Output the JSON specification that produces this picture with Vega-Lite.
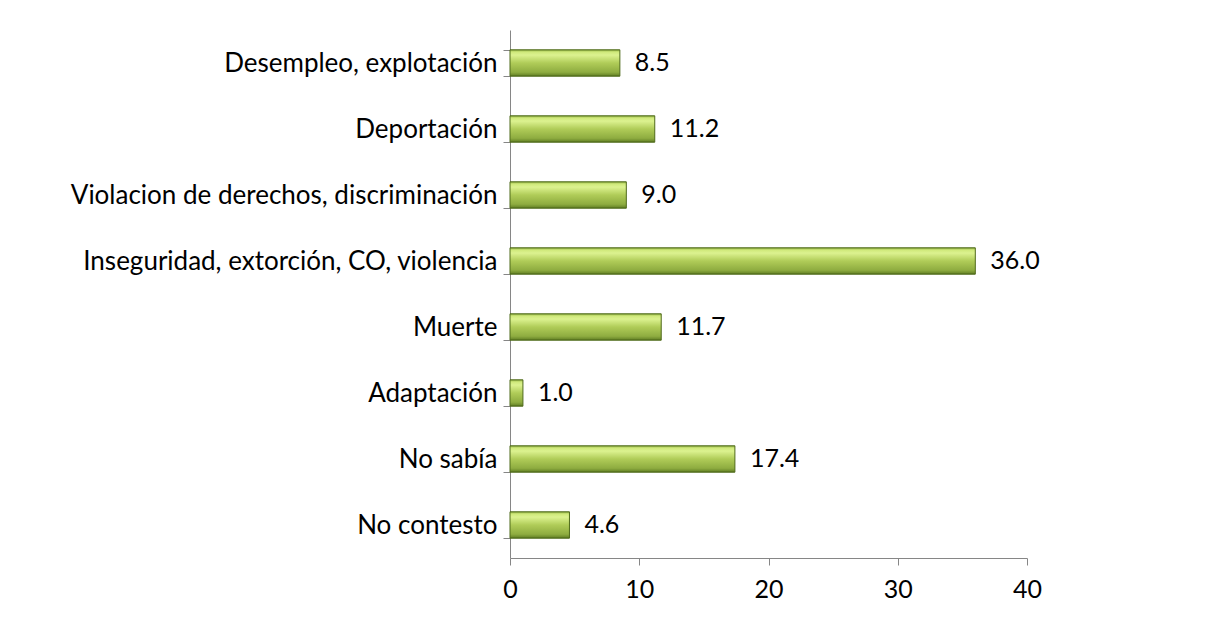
{
  "$schema": "https://vega.github.io/schema/vega-lite/v6.json",
  "width": 517,
  "height": 528,
  "autosize": {"type": "none"},
  "padding": {"left": 510, "top": 30, "right": 193, "bottom": 60},
  "background": "white",
  "config": {"view": {"stroke": null}, "font": "Lato"},
  "data": {
    "values": [
      {"cat": "Desempleo, explotación", "v": 8.5},
      {"cat": "Deportación", "v": 11.2},
      {"cat": "Violacion de derechos, discriminación", "v": 9.0},
      {"cat": "Inseguridad, extorción, CO, violencia", "v": 36.0},
      {"cat": "Muerte", "v": 11.7},
      {"cat": "Adaptación", "v": 1.0},
      {"cat": "No sabía", "v": 17.4},
      {"cat": "No contesto", "v": 4.6}
    ]
  },
  "encoding": {
    "y": {
      "field": "cat", "type": "nominal", "sort": null, "title": null,
      "scale": {"paddingInner": 0.6, "paddingOuter": 0.3},
      "axis": {
        "domainColor": "#868686", "tickColor": "#868686", "tickSize": 7,
        "tickBand": "extent", "labelPadding": 6, "labelFontSize": 26,
        "labelColor": "#000000", "labelFont": "Lato", "labelLimit": 500
      }
    },
    "x": {
      "field": "v", "type": "quantitative", "title": null,
      "scale": {"domain": [0, 40], "nice": false},
      "axis": {
        "values": [0, 10, 20, 30, 40], "grid": false,
        "domainColor": "#868686", "tickColor": "#868686", "tickSize": 7,
        "labelPadding": 12, "labelFontSize": 25, "labelColor": "#000000",
        "labelFont": "Lato", "labelFlush": false
      }
    }
  },
  "layer": [
    {
      "mark": {
        "type": "bar",
        "stroke": "#4f6a1a",
        "strokeWidth": 1,
        "fill": {
          "gradient": "linear", "x1": 0, "y1": 0, "x2": 0, "y2": 1,
          "stops": [
            {"offset": 0, "color": "#86a63a"},
            {"offset": 0.08, "color": "#cfe97a"},
            {"offset": 0.2, "color": "#dcf290"},
            {"offset": 0.5, "color": "#b0cc58"},
            {"offset": 0.85, "color": "#8eac40"},
            {"offset": 0.95, "color": "#6f8d2d"},
            {"offset": 1, "color": "#4f6a1a"}
          ]
        }
      }
    },
    {
      "mark": {"type": "text", "align": "left", "baseline": "middle", "dx": 15, "fontSize": 25, "font": "Lato", "color": "#000000"},
      "encoding": {"text": {"field": "v", "type": "quantitative", "format": ".1f"}}
    }
  ]
}
